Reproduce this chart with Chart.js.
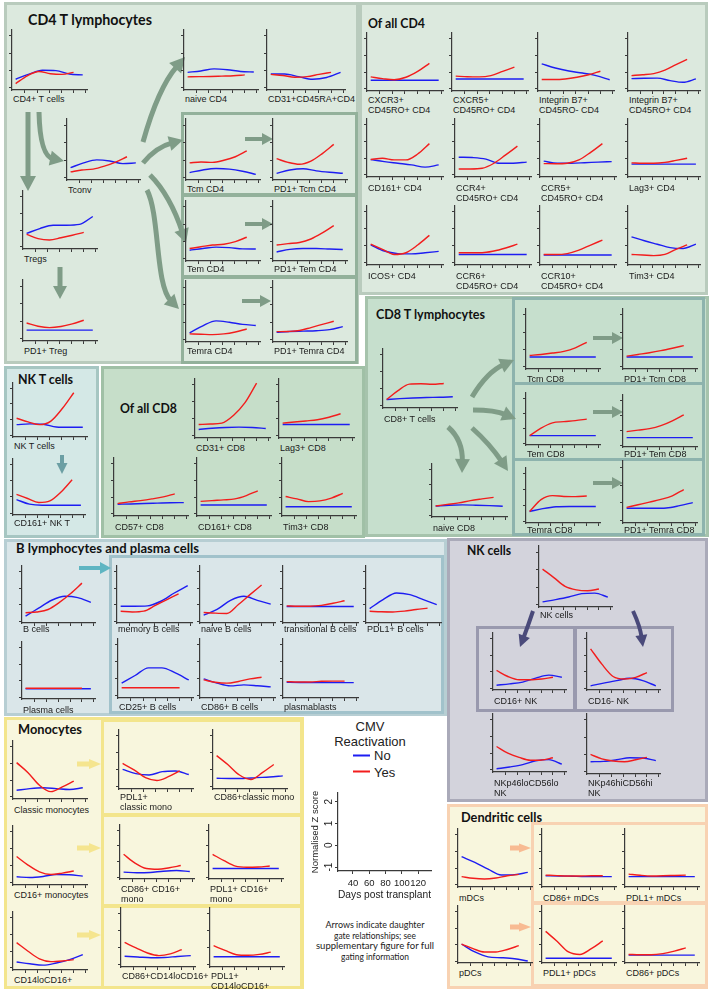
<!DOCTYPE html>
<html><head><meta charset="utf-8">
<script src="https://cdn.jsdelivr.net/npm/chart.js@4.4.1/dist/chart.umd.min.js"></script>
<style>
html,body{margin:0;padding:0;background:#fff;}
body{width:709px;height:990px;position:relative;overflow:hidden;font-family:"Liberation Sans",Arial,sans-serif;}
.box{position:absolute;box-sizing:border-box;border-style:solid;border-width:3px;}
.lbl{position:absolute;font-size:9px;line-height:10px;color:#1a1a1a;white-space:nowrap;}
canvas.mini{position:absolute;}
#ov{position:absolute;left:0;top:0;}
</style></head>
<body>
<svg id="ov" width="709" height="990" xmlns="http://www.w3.org/2000/svg"></svg>
<script>
// ---------------- DATA ----------------
const DAYS_NO  = [25, 47, 69, 91, 113, 135];
const DAYS_YES = [25, 44, 63, 82, 101, 120];
const Y_TICKS = [-1, 0, 1, 2];
const X_TICKS = [40, 60, 80, 100, 120, 140];
const LEGEND_X_TICKS = [40, 60, 80, 100, 120];
const LEGEND_Y_TICKS = [-1, 0, 1, 2];
const SERIES = ['No', 'Yes'];

const cd4Labels = ['CD4+ T cells','naive CD4','CD31+CD45RA+CD4','Tconv','Tregs','PD1+ Treg','Tcm CD4','PD1+ Tcm CD4','Tem CD4','PD1+ Tem CD4','Temra CD4','PD1+ Temra CD4'];
const cd4No = [
 [-0.5,-0.2,0.02,0.0,-0.2,-0.25],
 [-0.1,-0.02,0.1,0.05,-0.05,-0.08],
 [-0.2,-0.2,-0.35,-0.5,-0.4,-0.1],
 [-0.42,-0.15,0.02,-0.04,-0.19,-0.15],
 [-0.19,0.1,0.3,0.3,0.35,0.82],
 [-0.5,-0.5,-0.5,-0.5,-0.5,-0.5],
 [-0.7,-0.55,-0.47,-0.5,-0.62,-0.8],
 [-0.74,-0.55,-0.48,-0.6,-0.68,-0.74],
 [-0.5,-0.4,-0.32,-0.35,-0.42,-0.43],
 [-0.6,-0.45,-0.4,-0.4,-0.43,-0.46],
 [-0.6,-0.2,0.08,0.0,-0.12,-0.18],
 [-0.57,-0.52,-0.5,-0.48,-0.42,-0.25]];
const cd4Yes = [
 [-0.75,-0.3,-0.05,-0.18,-0.22,-0.1],
 [-0.36,-0.35,-0.34,-0.32,-0.3,-0.25],
 [-0.22,-0.28,-0.38,-0.35,-0.22,-0.1],
 [-0.66,-0.55,-0.5,-0.33,-0.1,0.2],
 [-0.25,-0.5,-0.58,-0.45,-0.3,-0.13],
 [-0.1,-0.28,-0.36,-0.3,-0.15,0.06],
 [-0.15,-0.1,-0.12,0.0,0.2,0.53],
 [0.09,-0.12,-0.23,-0.05,0.38,0.9],
 [-0.4,-0.3,-0.2,-0.15,0.0,0.25],
 [-0.2,-0.12,-0.05,0.15,0.5,0.92],
 [-0.66,-0.68,-0.7,-0.66,-0.55,-0.38],
 [-0.53,-0.52,-0.47,-0.3,-0.12,0.06]];

const ofcd4Labels = ['CXCR3+\nCD45RO+ CD4','CXCR5+\nCD45RO+ CD4','Integrin B7+\nCD45RO- CD4','Integrin B7+\nCD45RO+ CD4','CD161+ CD4','CCR4+\nCD45RO+ CD4','CCR5+\nCD45RO+ CD4','Lag3+ CD4','ICOS+ CD4','CCR6+\nCD45RO+ CD4','CCR10+\nCD45RO+ CD4','Tim3+ CD4'];
const ofcd4No = [
 [-0.48,-0.48,-0.48,-0.48,-0.48,-0.48],
 [-0.4,-0.4,-0.4,-0.4,-0.4,-0.4],
 [0.5,0.25,0.07,-0.05,-0.2,-0.45],
 [-0.38,-0.36,-0.35,-0.5,-0.6,-0.4],
 [-0.08,-0.2,-0.3,-0.4,-0.53,-0.4],
 [0.06,0.04,-0.05,-0.3,-0.3,-0.23],
 [-0.17,-0.3,-0.3,-0.27,-0.23,-0.2],
 [-0.35,-0.35,-0.35,-0.35,-0.35,-0.35],
 [0.06,-0.3,-0.45,-0.47,-0.4,-0.32],
 [-0.5,-0.5,-0.5,-0.5,-0.5,-0.5],
 [-0.53,-0.53,-0.53,-0.53,-0.53,-0.53],
 [0.53,0.3,0.1,-0.1,-0.15,0.1]];
const ofcd4Yes = [
 [-0.28,-0.38,-0.45,-0.3,0.05,0.53],
 [-0.23,-0.27,-0.28,-0.2,0.05,0.3],
 [-0.43,-0.43,-0.4,-0.3,-0.15,0.06],
 [-0.2,-0.15,-0.08,0.12,0.45,0.77],
 [-0.08,0.0,-0.1,-0.1,0.25,0.87],
 [-0.64,-0.64,-0.6,-0.3,0.2,0.72],
 [-0.32,-0.33,-0.3,-0.1,0.35,0.87],
 [-0.28,-0.3,-0.3,-0.25,-0.13,0.0],
 [0.1,-0.2,-0.5,-0.4,0.05,0.62],
 [-0.4,-0.4,-0.4,-0.3,-0.12,0.1],
 [-0.5,-0.5,-0.45,-0.25,0.05,0.34],
 [-0.5,-0.53,-0.57,-0.5,-0.2,0.06]];

const nktLabels = ['NK T cells','CD161+ NK T'];
const nktNo = [[-0.33,-0.28,-0.3,-0.48,-0.5,-0.5],[-0.17,-0.45,-0.52,-0.52,-0.52,-0.52]];
const nktYes = [[0.08,-0.15,-0.33,-0.1,0.7,1.71],[0.15,-0.1,-0.35,-0.25,0.3,1.06]];

const ofcd8Labels = ['CD31+ CD8','Lag3+ CD8','CD57+ CD8','CD161+ CD8','Tim3+ CD8'];
const ofcd8No = [
 [-0.62,-0.55,-0.5,-0.48,-0.5,-0.56],
 [-0.33,-0.33,-0.33,-0.33,-0.33,-0.33],
 [-0.42,-0.4,-0.37,-0.35,-0.33,-0.32],
 [-0.46,-0.46,-0.46,-0.46,-0.46,-0.46],
 [-0.57,-0.57,-0.57,-0.57,-0.57,-0.57]];
const ofcd8Yes = [
 [-0.33,-0.3,-0.25,0.2,0.95,2.1],
 [-0.25,-0.18,-0.12,-0.05,0.1,0.3],
 [-0.38,-0.28,-0.2,-0.1,0.02,0.2],
 [-0.25,-0.2,-0.16,-0.1,0.1,0.38],
 [0.04,-0.1,-0.26,-0.22,-0.05,0.23]];

const cd8Labels = ['CD8+ T cells','naive CD8','Tcm CD8','PD1+ Tcm CD8','Tem CD8','PD1+ Tem CD8','Temra CD8','PD1+ Temra CD8'];
const cd8No = [
 [-0.62,-0.57,-0.53,-0.5,-0.49,-0.46],
 [-0.4,-0.35,-0.33,-0.35,-0.38,-0.42],
 [-0.43,-0.43,-0.43,-0.43,-0.43,-0.43],
 [-0.43,-0.43,-0.43,-0.43,-0.43,-0.43],
 [-0.5,-0.5,-0.5,-0.5,-0.5,-0.5],
 [-0.5,-0.5,-0.5,-0.5,-0.5,-0.5],
 [-0.4,-0.22,-0.1,-0.08,-0.08,-0.08],
 [-0.3,-0.3,-0.3,-0.28,-0.15,0.02]];
const cd8Yes = [
 [-0.62,-0.1,0.28,0.3,0.27,0.32],
 [-0.4,-0.3,-0.2,-0.05,0.06,0.16],
 [-0.34,-0.28,-0.2,-0.1,0.1,0.42],
 [-0.38,-0.28,-0.18,-0.06,0.08,0.23],
 [-0.5,0.0,0.35,0.43,0.5,0.6],
 [-0.1,0.0,0.1,0.3,0.62,1.02],
 [-0.4,0.35,0.6,0.55,0.54,0.58],
 [-0.25,-0.1,0.05,0.2,0.4,0.75]];

const bLabels = ['B cells','memory B cells','naive B cells','transitional  B cells','PDL1+ B cells','Plasma cells','CD25+ B cells','CD86+ B cells','plasmablasts'];
const bNo = [
 [-0.7,-0.22,0.26,0.5,0.42,0.13],
 [-0.1,-0.1,-0.08,0.2,0.7,1.15],
 [-0.64,-0.3,0.25,0.5,0.25,0.03],
 [-0.12,-0.12,-0.12,-0.12,-0.12,-0.12],
 [-0.25,0.3,0.7,0.6,0.3,0.0],
 [-0.5,-0.5,-0.5,-0.5,-0.5,-0.5],
 [-0.25,0.2,0.65,0.65,0.35,-0.06],
 [0.0,-0.25,-0.41,-0.35,-0.4,-0.47],
 [-0.2,-0.21,-0.22,-0.22,-0.22,-0.22]];
const bYes = [
 [-0.5,-0.45,-0.3,0.13,0.67,1.3],
 [-0.41,-0.45,-0.4,-0.05,0.3,0.65],
 [-0.48,-0.52,-0.54,0.0,0.6,1.19],
 [-0.08,-0.1,-0.1,-0.05,0.08,0.23],
 [-0.41,-0.44,-0.45,-0.4,-0.3,-0.22],
 [-0.47,-0.47,-0.47,-0.47,-0.47,-0.47],
 [-0.52,-0.52,-0.52,-0.52,-0.52,-0.52],
 [-0.06,-0.2,-0.25,-0.15,0.0,0.1],
 [-0.16,-0.18,-0.18,-0.14,-0.13,-0.13]];

const nkLabels = ['NK cells','CD16+ NK','CD16- NK','NKp46loCD56lo\nNK','NKp46hiCD56hi\nNK'];
const nkNo = [
 [-0.83,-0.7,-0.55,-0.36,-0.33,-0.56],
 [-0.83,-0.75,-0.64,-0.4,-0.22,-0.35],
 [-0.87,-0.7,-0.55,-0.41,-0.55,-0.87],
 [-0.93,-0.82,-0.68,-0.45,-0.38,-0.65],
 [-0.41,-0.39,-0.3,-0.18,-0.2,-0.35]];
const nkYes = [
 [1.03,0.55,0.05,-0.15,-0.2,-0.1],
 [0.07,-0.3,-0.5,-0.5,-0.45,-0.35],
 [1.38,0.45,-0.3,-0.45,-0.35,-0.06],
 [0.4,0.0,-0.25,-0.42,-0.4,-0.27],
 [0.01,-0.25,-0.37,-0.41,-0.3,-0.16]];

const monoLabels = ['Classic monocytes','PDL1+\nclassic mono','CD86+classic mono','CD16+ monocytes','CD86+ CD16+\nmono','PDL1+ CD16+\nmono','CD14loCD16+','CD86+CD14loCD16+','PDL1+\nCD14loCD16+'];
const monoNo = [
 [-0.6,-0.5,-0.45,-0.5,-0.55,-0.45],
 [0.03,-0.22,-0.3,-0.1,-0.06,-0.27],
 [-0.49,-0.5,-0.5,-0.45,-0.42,-0.35],
 [-0.64,-0.68,-0.62,-0.5,-0.52,-0.6],
 [-0.68,-0.72,-0.7,-0.62,-0.58,-0.64],
 [-0.45,-0.45,-0.45,-0.45,-0.45,-0.45],
 [-0.64,-0.75,-0.83,-0.7,-0.5,-0.2],
 [-0.49,-0.53,-0.58,-0.56,-0.5,-0.45],
 [-0.52,-0.52,-0.52,-0.52,-0.52,-0.52]];
const monoYes = [
 [1.05,0.45,-0.3,-0.68,-0.4,-0.05],
 [0.38,0.0,-0.45,-0.62,-0.4,-0.06],
 [0.84,0.3,-0.3,-0.56,-0.16,0.32],
 [0.55,0.05,-0.35,-0.5,-0.42,-0.3],
 [0.46,-0.1,-0.45,-0.5,-0.4,-0.26],
 [0.46,0.05,-0.3,-0.37,-0.35,-0.29],
 [0.51,0.0,-0.45,-0.62,-0.58,-0.5],
 [0.32,0.0,-0.3,-0.45,-0.35,-0.1],
 [0.13,-0.15,-0.4,-0.43,-0.38,-0.25]];

const dcLabels = ['mDCs','CD86+ mDCs','PDL1+ mDCs','pDCs','PDL1+ pDCs','CD86+ pDCs'];
const dcNo = [
 [0.69,0.35,-0.05,-0.4,-0.38,-0.25],
 [-0.45,-0.46,-0.48,-0.5,-0.5,-0.5],
 [-0.5,-0.5,-0.5,-0.5,-0.5,-0.5],
 [0.03,-0.45,-0.75,-0.8,-0.86,-1.0],
 [-0.83,-0.83,-0.83,-0.83,-0.83,-0.83],
 [-0.64,-0.64,-0.64,-0.64,-0.64,-0.64]];
const dcYes = [
 [-0.5,-0.6,-0.64,-0.58,-0.45,-0.37],
 [-0.41,-0.44,-0.46,-0.46,-0.45,-0.45],
 [-0.35,-0.42,-0.46,-0.45,-0.43,-0.41],
 [0.03,-0.25,-0.45,-0.45,-0.3,-0.07],
 [0.8,0.2,-0.45,-0.6,-0.25,0.22],
 [-0.6,-0.62,-0.62,-0.55,-0.4,-0.2]];

// ---------------- LAYOUT (axis x, axis top, axis bottom, axis width, label top) ----------------
const cd4Layout = [[12,29,90,75,94],[184,29,90,74,94],[267,29,90,78,94],[67,118,180,73,185],[23,190,249,74,254],[23,279,341,74,346],
 [186,118,180,74,184],[273,118,180,74,184],[186,200,261,74,264],[273,200,261,74,264],[186,280,342,74,346],[273,280,342,74,346]];
const ofcd4Layout = [[367,32,91,76,95],[452,32,91,76,95],[538,32,91,76,95],[628,32,91,72,95],
 [367,118,177,76,183],[455,118,177,76,183],[540,118,177,76,183],[628,118,177,72,183],
 [367,205,265,76,271],[455,205,265,76,271],[540,205,265,76,271],[628,205,265,72,271]];
const nktLayout = [[13,382,437,74,441],[13,458,515,72,518]];
const ofcd8Layout = [[195,378,438,75,443],[279,378,438,75,443],[114,457,516,74,522],[197,457,516,74,522],[282,457,516,74,522]];
const cd8Layout = [[383,348,408,74,414],[432,463,517,75,523],[526,308,369,74,374],[623,308,369,74,374],[526,392,445,74,449],[623,394,447,74,449],[526,467,523,74,525],[623,460,523,74,525]];
const bLayout = [[22,565,623,73,624],[117,565,623,75,624],[200,565,623,75,624],[283,565,623,75,624],[366,565,623,75,624],
 [22,641,699,73,705],[118,638,698,75,702],[200,638,698,75,702],[283,638,698,75,702]];
const nkLayout = [[539,545,607,73,610],[493,632,690,73,696],[587,632,690,73,696],[493,713,772,73,778],[587,713,774,73,778]];
const monoLayout = [[13,740,799,74,805],[119,729,789,74,792],[213,729,789,74,792],[13,825,885,74,890],[120,824,879,74,884],[209,824,879,74,884],
 [13,911,970,74,975],[121,907,967,74,971],[210,907,967,74,971]];
const dcLayout = [[458,828,887,74,893],[542,828,887,74,893],[625,828,887,74,893],[458,905,963,74,968],[542,905,963,74,968],[625,905,963,74,968]];

// boxes: left, top, width, height, fill, border
const BOXES = [
 [4,2,355,362,'#dce9de','#b9cbbd'],
 [181,112,177,84,'transparent','#93b19b'],[181,194,177,84,'transparent','#93b19b'],[181,276,177,88,'transparent','#93b19b'],
 [359,2,349,293,'#dce9de','#b9cbbd'],
 [4,366,95,172,'#d4e8e6','#a6c6c2'],
 [101,366,264,172,'#c6dec9','#a0c0a6'],
 [365,296,344,241,'#c6dfcd','#a6c3ac'],
 [512,297,193,88,'transparent','#8db3ad'],[512,382,193,79,'transparent','#8db3ad'],[512,458,193,78,'transparent','#8db3ad'],
 [4,539,443,177,'#dae6e9','#b7ced3'],
 [109,555,335,159,'transparent','#a1c2cb'],
 [447,538,261,264,'#d3d3dc','#aaaab9'],
 [476,626,100,86,'transparent','#9999ae'],[574,626,100,86,'transparent','#9999ae'],
 [4,717,300,272,'#f8f6dd','#f3e58c'],
 [101,719,202,97,'transparent','#f3e58c'],[101,814,202,93,'transparent','#f3e58c'],[101,905,202,84,'transparent','#f3e58c'],
 [447,804,261,185,'#f8f6dd','#f8d2b2'],
 [531,822,177,82,'transparent','#f8d2b2'],[531,902,177,85,'transparent','#f8d2b2']
];

const BLUE = '#1d1df2', RED = '#f21d1d', AXIS = '#3a3a3a';

BOXES.forEach(b => {
  const d = document.createElement('div');
  d.className = 'box';
  Object.assign(d.style, {left:b[0]+'px', top:b[1]+'px', width:b[2]+'px', height:b[3]+'px', background:b[4], borderColor:b[5]});
  document.body.insertBefore(d, document.getElementById('ov'));
});

const svg = document.getElementById('ov');
const NS = 'http://www.w3.org/2000/svg';
function el(tag, attrs, text) {
  const e = document.createElementNS(NS, tag);
  for (const k in attrs) e.setAttribute(k, attrs[k]);
  if (text !== undefined) e.textContent = text;
  svg.appendChild(e);
  return e;
}
function arrow(p, color, w, hl, hw) {
  const n = p.length, tip = p[n-1], prev = p[n-2];
  let dx = tip[0]-prev[0], dy = tip[1]-prev[1];
  const L = Math.hypot(dx, dy); dx /= L; dy /= L;
  const base = [tip[0]-dx*hl, tip[1]-dy*hl];
  const sb = [tip[0]-dx*hl*0.8, tip[1]-dy*hl*0.8];
  let d = 'M' + p[0];
  if (n === 2) d += ' L' + sb;
  else if (n === 3) d += ' Q' + p[1] + ' ' + sb;
  else d += ' C' + p[1] + ' ' + p[2] + ' ' + sb;
  el('path', {d, stroke: color, 'stroke-width': w, fill: 'none'});
  const px = -dy*hw/2, py = dx*hw/2;
  el('polygon', {points: `${tip} ${base[0]+px},${base[1]+py} ${base[0]-px},${base[1]-py}`, fill: color});
}
const G = '#7f9c87';
arrow([[28,112],[28,191]], G, 5, 15, 16);
arrow([[39,112],[40,156],[64,161]], G, 5, 14, 15);
arrow([[60,267],[60,299]], G, 5, 13, 14);
arrow([[143,142],[158,88],[185,57]], G, 5, 15, 16);
arrow([[143,163],[156,147],[183,140]], G, 5, 14, 15);
arrow([[150,175],[170,195],[186,243]], G, 5, 14, 15);
arrow([[147,190],[160,215],[155,285],[179,309]], G, 5, 14, 15);
arrow([[245,139],[273,139]], G, 4, 11, 12);
arrow([[245,224],[273,224]], G, 4, 11, 12);
arrow([[242,301],[271,301]], G, 4, 11, 12);
arrow([[472,397],[487,372],[514,360]], G, 5, 14, 15);
arrow([[473,410],[495,410],[516,419]], G, 5, 14, 15);
arrow([[448,427],[463,440],[462,473]], G, 5, 14, 15);
arrow([[472,428],[490,444],[508,471]], G, 5, 14, 15);
arrow([[593,338],[623,338]], G, 4, 11, 12);
arrow([[593,412],[623,412]], G, 4, 11, 12);
arrow([[593,483],[623,483]], G, 4, 11, 12);
arrow([[62,455],[62,474]], '#6c9fa4', 4, 11, 11);
arrow([[79,568],[111,568]], '#5fb5c2', 4, 11, 12);
arrow([[533,611],[528,626],[520,647]], '#4a4a7a', 4, 12, 12);
arrow([[633,611],[640,626],[643,647]], '#4a4a7a', 4, 12, 12);
arrow([[77,764],[101,764]], '#f5e58f', 5, 12, 10);
arrow([[77,848],[101,848]], '#f5e58f', 5, 12, 10);
arrow([[77,935],[101,935]], '#f5e58f', 5, 12, 10);
arrow([[510,848],[531,848]], '#f8bb92', 5, 12, 9);
arrow([[510,927],[531,927]], '#f8bb92', 5, 12, 9);

const TITLES = [
 ['CD4 T lymphocytes',28,24.5,16,124],['Of all CD4',368,27.5,13.5,57],['CD8 T lymphocytes',376,319,13.5,109],
 ['NK T cells',18,383.5,14,55],['Of all CD8',120,413,14,57],['B lymphocytes and plasma cells',16,552.5,12.5,183],
 ['NK cells',467,554.5,12.5,44],['Monocytes',18,734,13,64],['Dendritic cells',461,822,13,81]];
TITLES.forEach(t => el('text', {x:t[1], y:t[2], 'font-size':t[3], 'font-family':'Lato, sans-serif', 'font-weight':'bold', fill:'#111', textLength:t[4], lengthAdjust:'spacingAndGlyphs'}, t[0]));

// legend
el('text', {x:370, y:731, 'font-size':13, 'font-family':'Liberation Sans, Arial', fill:'#222', 'text-anchor':'middle'}, 'CMV');
el('text', {x:370, y:746, 'font-size':13, 'font-family':'Liberation Sans, Arial', fill:'#222', 'text-anchor':'middle'}, 'Reactivation');
el('line', {x1:353, x2:370, y1:755.5, y2:755.5, stroke:BLUE, 'stroke-width':2});
el('line', {x1:353, x2:370, y1:771.5, y2:771.5, stroke:RED, 'stroke-width':2});
el('text', {x:374, y:760, 'font-size':13, 'font-family':'Liberation Sans, Arial', fill:'#222'}, SERIES[0]);
el('text', {x:374, y:776.5, 'font-size':13, 'font-family':'Liberation Sans, Arial', fill:'#222'}, SERIES[1]);
const NOTE = [['Arrows indicate daughter',927.5,99],['gate relationships; see',938.5,82],['supplementary figure for full',949,118],['gating information',960,68]];
NOTE.forEach(n => el('text', {x:375, y:n[1], 'font-size':10, 'font-family':'Lato, sans-serif', fill:'#222', 'text-anchor':'middle', textLength:n[2], lengthAdjust:'spacingAndGlyphs'}, n[0]));

// ---------------- CHARTS ----------------
function mini(lay, label, no, yes) {
  const [ax, at, ab, aw, lt] = lay;
  const c = document.createElement('canvas');
  c.className = 'mini';
  c.width = aw + 6; c.height = ab - at + 4;
  c.style.left = (ax - 4) + 'px'; c.style.top = at + 'px';
  document.body.appendChild(c);
  new Chart(c, {
    type: 'line',
    data: { datasets: [
      { label: SERIES[1], data: DAYS_YES.map((d,i) => ({x:d, y:yes[i]})), borderColor: RED, borderWidth: 1.4, pointRadius: 0, cubicInterpolationMode: 'monotone', fill: false, order: 0, clip: false },
      { label: SERIES[0], data: DAYS_NO.map((d,i) => ({x:d, y:no[i]})), borderColor: BLUE, borderWidth: 1.4, pointRadius: 0, cubicInterpolationMode: 'monotone', fill: false, order: 1, clip: false }
    ]},
    options: {
      responsive: false, animation: false, devicePixelRatio: 1, events: [],
      layout: { padding: { left: 0, top: 0, right: 2, bottom: 0 } },
      plugins: { legend: { display: false }, tooltip: { enabled: false } },
      scales: {
        x: { type: 'linear', min: 19, max: 142,
             afterBuildTicks: s => { s.ticks = X_TICKS.map(v => ({value: v})); },
             afterFit: s => { s.height = 4; },
             ticks: { display: false },
             grid: { display: true, drawOnChartArea: false, drawTicks: true, tickLength: 3, color: AXIS, lineWidth: 1 },
             border: { display: true, color: AXIS, width: 1.2 } },
        y: { type: 'linear', min: -1.12, max: 2.4,
             afterBuildTicks: s => { s.ticks = Y_TICKS.map(v => ({value: v})); },
             afterFit: s => { s.width = 4; },
             ticks: { display: false },
             grid: { display: true, drawOnChartArea: false, drawTicks: true, tickLength: 3, color: AXIS, lineWidth: 1 },
             border: { display: true, color: AXIS, width: 1.2 } }
      }
    }
  });
  const d = document.createElement('div');
  d.className = 'lbl';
  d.style.left = (ax + 1) + 'px'; d.style.top = lt + 'px';
  label.split('\n').forEach((line, i) => { if (i) d.appendChild(document.createElement('br')); d.appendChild(document.createTextNode(line)); });
  document.body.appendChild(d);
}

const SECTIONS = [
  [cd4Labels, cd4No, cd4Yes, cd4Layout],
  [ofcd4Labels, ofcd4No, ofcd4Yes, ofcd4Layout],
  [nktLabels, nktNo, nktYes, nktLayout],
  [ofcd8Labels, ofcd8No, ofcd8Yes, ofcd8Layout],
  [cd8Labels, cd8No, cd8Yes, cd8Layout],
  [bLabels, bNo, bYes, bLayout],
  [nkLabels, nkNo, nkYes, nkLayout],
  [monoLabels, monoNo, monoYes, monoLayout],
  [dcLabels, dcNo, dcYes, dcLayout]
];
SECTIONS.forEach(([labels, no, yes, layout]) => labels.forEach((lab, i) => mini(layout[i], lab, no[i], yes[i])));

// legend axis
const lc = document.createElement('canvas');
lc.width = 135; lc.height = 119;
lc.style.position = 'absolute'; lc.style.left = '305px'; lc.style.top = '786px';
document.body.appendChild(lc);
new Chart(lc, {
  type: 'line',
  data: { datasets: [ { label: SERIES[0], data: [], borderColor: BLUE }, { label: SERIES[1], data: [], borderColor: RED } ] },
  options: {
    responsive: false, animation: false, devicePixelRatio: 1, events: [],
    layout: { padding: { top: 4, right: 9, left: 0, bottom: 0 } },
    plugins: { legend: { display: false }, tooltip: { enabled: false } },
    scales: {
      x: { type: 'linear', min: 21.6, max: 135.7,
           afterBuildTicks: s => { s.ticks = LEGEND_X_TICKS.map(v => ({value: v})); },
           afterFit: s => { s.height = 34; },
           ticks: { color: '#222', font: { size: 9.5, family: 'Liberation Sans' }, padding: 4, maxRotation: 0, autoSkip: false },
           grid: { drawOnChartArea: false, tickLength: 3, color: AXIS },
           border: { color: AXIS, width: 1.2 },
           title: { display: true, text: 'Days post transplant', color: '#222', font: { size: 11, family: 'Liberation Sans' }, padding: { top: 0, bottom: 3 } } },
      y: { type: 'linear', min: -1.18, max: 2.4,
           afterBuildTicks: s => { s.ticks = LEGEND_Y_TICKS.map(v => ({value: v})); },
           afterFit: s => { s.width = 33; },
           ticks: { color: '#222', font: { size: 10, family: 'Liberation Sans' }, padding: 1, minRotation: 90, maxRotation: 90, crossAlign: 'center' },
           grid: { drawOnChartArea: false, tickLength: 3, color: AXIS },
           border: { color: AXIS, width: 1.2 },
           title: { display: true, text: 'Normalised Z score', color: '#222', font: { size: 9.5, family: 'Liberation Sans' }, padding: { top: 5, bottom: 0 } } }
    }
  }
});
</script>
</body></html>
